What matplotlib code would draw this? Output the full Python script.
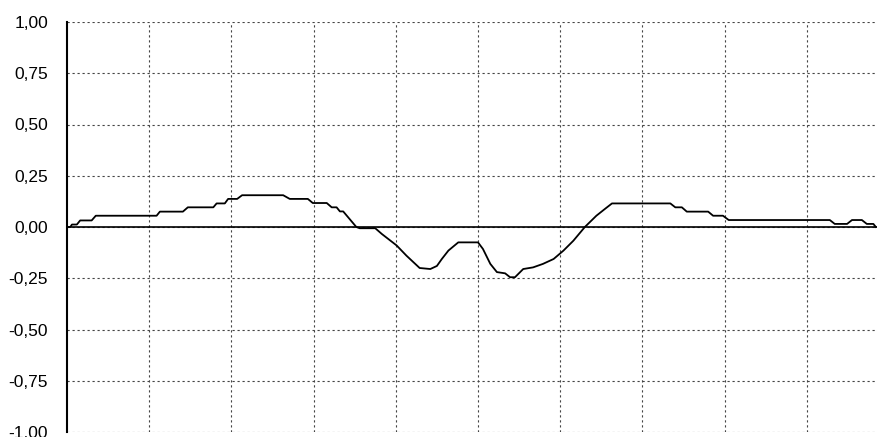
import matplotlib.pyplot as plt
from matplotlib.ticker import FixedLocator, FuncFormatter

# Curve (x in grid divisions, y in axis units)
x_vals = [0.00, 0.04, 0.06, 0.12, 0.16, 0.30, 0.35, 1.09, 1.13, 1.41, 1.47,
          1.78, 1.82, 1.92, 1.96, 2.07, 2.13, 2.63, 2.71, 2.93, 2.99, 3.16,
          3.22, 3.28, 3.32, 3.36, 3.52, 3.56, 3.75, 3.83, 4.01, 4.13, 4.29,
          4.42, 4.50, 4.56, 4.64, 4.76, 5.00, 5.06, 5.15, 5.23, 5.33, 5.39,
          5.45, 5.55, 5.67, 5.79, 5.92, 6.04, 6.16, 6.30, 6.44, 6.55, 6.63,
          7.34, 7.40, 7.48, 7.54, 7.80, 7.86, 7.98, 8.05, 9.28, 9.34, 9.49,
          9.55, 9.67, 9.73, 9.81, 9.84]
y_vals = [0.000, 0.000, 0.012, 0.012, 0.032, 0.032, 0.055, 0.055, 0.075, 0.075, 0.096,
          0.096, 0.115, 0.115, 0.137, 0.137, 0.155, 0.155, 0.137, 0.137, 0.117, 0.117,
          0.096, 0.096, 0.076, 0.076, 0.000, -0.006, -0.006, -0.034, -0.090, -0.140, -0.200,
          -0.205, -0.190, -0.156, -0.115, -0.075, -0.075, -0.107, -0.180, -0.220, -0.226, -0.245,
          -0.245, -0.205, -0.197, -0.180, -0.156, -0.115, -0.067, 0.000, 0.055, 0.090, 0.115,
          0.115, 0.096, 0.096, 0.075, 0.075, 0.055, 0.055, 0.034, 0.034, 0.015, 0.015,
          0.034, 0.034, 0.015, 0.015, 0.000]

y_ticks = [-1.0, -0.75, -0.5, -0.25, 0.0, 0.25, 0.5, 0.75, 1.0]
x_grid = [1, 2, 3, 4, 5, 6, 7, 8, 9]

fig = plt.figure(figsize=(8.78, 4.37), dpi=100)
ax = fig.add_axes([67 / 878, 1 - 432 / 437, 1 - 67 / 878, 410 / 437])

ax.plot(x_vals, y_vals, color="black", linewidth=1.3, zorder=3)
ax.axhline(0, color="black", linewidth=1.2, zorder=2)

ax.set_xlim(0, 811 / 82.2)
ax.set_ylim(-1, 1)
ax.yaxis.set_major_locator(FixedLocator(y_ticks))
ax.xaxis.set_major_locator(FixedLocator(x_grid))
ax.yaxis.set_major_formatter(FuncFormatter(lambda v, p: f"{v:.2f}".replace(".", ",")))
ax.set_xticklabels([])

ax.grid(True, color="#444444", linestyle=(0, (2, 2.5)), linewidth=0.8)
ax.tick_params(axis="both", length=0)
ax.tick_params(axis="y", pad=13.5)
for lab in ax.get_yticklabels():
    lab.set_fontfamily("Liberation Sans")
    lab.set_fontsize(12.5)

for side in ["top", "right", "bottom"]:
    ax.spines[side].set_visible(False)
ax.spines["left"].set_linewidth(1.5)

fig.savefig("out.png", dpi=100)
